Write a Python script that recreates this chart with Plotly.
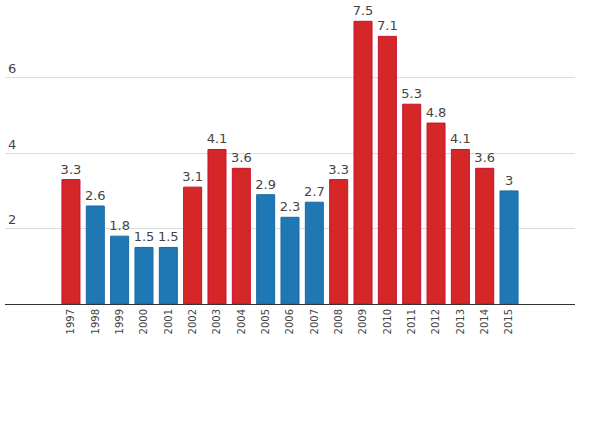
import plotly.graph_objects as go

years = ["1997", "1998", "1999", "2000", "2001", "2002", "2003", "2004", "2005", "2006",
         "2007", "2008", "2009", "2010", "2011", "2012", "2013", "2014", "2015"]
values = [3.3, 2.6, 1.8, 1.5, 1.5, 3.1, 4.1, 3.6, 2.9, 2.3, 2.7, 3.3, 7.5, 7.1, 5.3, 4.8, 4.1, 3.6, 3]
party = ["R", "B", "B", "B", "B", "R", "R", "R", "B", "B", "B", "R", "R", "R", "R", "R", "R", "R", "B"]

fill = {"R": "#d62728", "B": "#1f77b4"}
edge = {"R": "#c8102e", "B": "#1a6aa5"}

fig = go.Figure(go.Bar(
    x=years,
    y=values,
    width=0.74,
    marker=dict(color=[fill[p] for p in party],
                line=dict(color=[edge[p] for p in party], width=1)),
    text=[f"{v:g}" for v in values],
    textposition="outside",
    constraintext="none",
    textfont=dict(size=13, color="#444", family="DejaVu Sans, sans-serif"),
    cliponaxis=False,
    hoverinfo="skip",
))

fig.update_layout(
    width=600, height=430,
    margin=dict(l=5, r=25, t=10, b=126),
    plot_bgcolor="white", paper_bgcolor="white",
    showlegend=False,
    hovermode=False,
    font=dict(family="DejaVu Sans, sans-serif", color="#444"),
    xaxis=dict(type="category", range=[-2.71, 20.71], tickangle=-90,
               tickfont=dict(size=10, color="#444"), showgrid=False,
               showline=True, linecolor="#333", linewidth=1, ticks=""),
    yaxis=dict(range=[0, 7.8], tickvals=[2, 4, 6], ticktext=["2", "4", "6"],
               ticklabelposition="inside top", tickfont=dict(size=13, color="#444"),
               showgrid=True, gridcolor="#dcdcdc", gridwidth=1, zeroline=False,
               ticks=""),
)

fig.write_html("out.html", config={"displayModeBar": False, "staticPlot": True},
               post_script="document.body.style.margin='0';")
